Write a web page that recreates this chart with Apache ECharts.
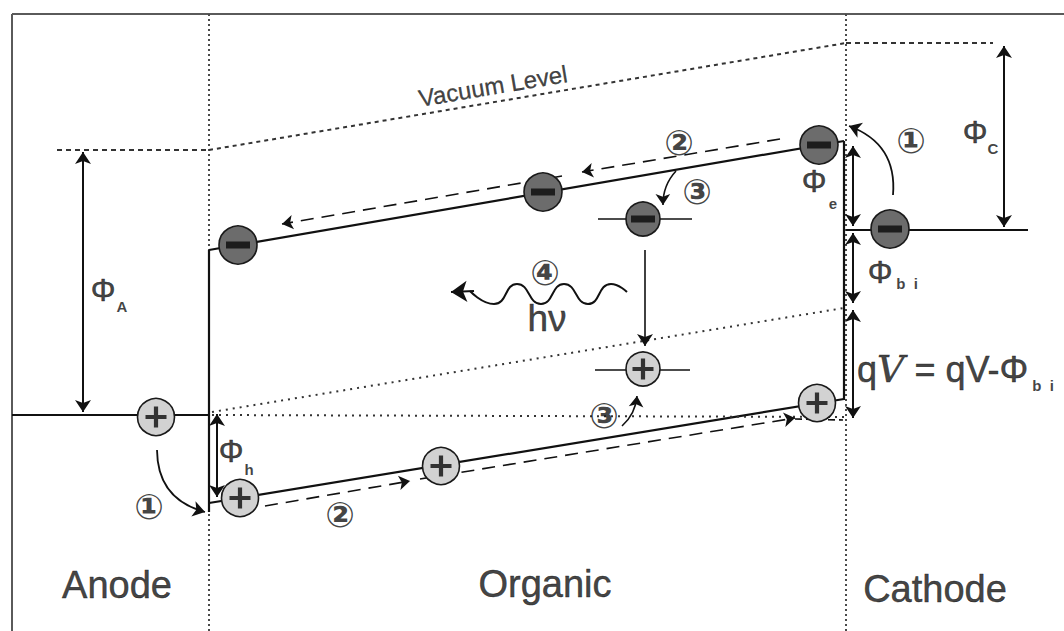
<!DOCTYPE html>
<html>
<head>
<meta charset="utf-8">
<script src="https://cdn.jsdelivr.net/npm/echarts@6/dist/echarts.min.js"></script>
<style>
  html, body { margin: 0; padding: 0; background: #fff; }
  #chart { width: 1064px; height: 631px; }
</style>
</head>
<body>
<div id="chart"></div>
<script>
// Energy-band diagram of an anode / organic / cathode device.
// Diagram space: x runs across the device, y is energy drawn downward (0 at the top).

// ---- outline and interfaces ----
const frameEdges   = [[[12, 14], [1064, 14]], [[12, 14], [12, 631]]];
const interfaces   = [[[209, 14], [209, 631]], [[846, 14], [846, 631]]];

// ---- metal levels ----
const metalFermi   = [[[12, 415], [209, 415]], [[846, 230], [1028, 230]]];
const metalVacuum  = [[[57, 150], [209, 150]], [[846, 43], [993, 43]]];
const organicVacuum = [[[209, 150], [846, 43]]];

// ---- organic bands (LUMO, HOMO and their edges) ----
const bandEdges = [
  [[209, 250], [844, 141]],
  [[209, 503], [844, 399]],
  [[209, 250], [209, 512]],
  [[844, 141], [844, 400]]
];
const fieldGuides = [[[212, 412], [844, 308]], [[212, 415], [844, 417]]];
const trapLevels  = [[[598, 219], [692, 219]], [[595, 370], [690, 370]]];

// ---- carrier transport paths ----
const electronPath = [[[780, 139], [582, 172]], [[562, 176], [282, 224]]];
const holePath     = [[[265, 506], [410, 481]], [[420, 479], [795, 418]]];
const holePathTail = [[[795, 419], [843, 420]]];

// ---- energy-difference arrows (double headed) ----
const doubleArrows = [
  [[83, 152], [83, 412]],     // Φ_A
  [[217, 414], [217, 497]],   // Φ_h
  [[1004, 46], [1004, 227]],  // Φ_C
  [[853, 146], [853, 226]],   // Φ_e
  [[853, 233], [853, 303]],   // Φ_bi
  [[853, 310], [853, 418]]    // qV
];
const recombinationArrow = [[[645, 250], [645, 346]]];
const injectionArrows = [[[893, 195], [849, 126]], [[157, 450], [205, 512]]];
const trappingArrows  = [[[676, 171], [663, 205]], [[622, 426], [637, 396]]];

// ---- emitted photon ----
const photonWave = [[470, 291], [494, 304], [517, 284], [541, 304], [564, 284], [588, 304], [611, 284], [627, 292]];
const photonHead = [[[474, 291], [451, 292]]];

// ---- carriers ----
const electrons        = [[238, 245], [543, 192], [819, 145], [890, 229]];
const trappedElectrons = [[643, 219]];
const holes            = [[156, 417], [240, 498], [441, 466], [817, 403]];
const trappedHoles     = [[643, 369]];

// ---- text ----
const regionLabels = [['Anode', 117, 585], ['Organic', 545, 584], ['Cathode', 935, 589]];
const stepLabels = [['①', 911, 141], ['①', 149, 507], ['②', 679, 143], ['②', 340, 515],
                    ['③', 697, 192], ['③', 604, 416], ['④', 545, 273]];
const phiLabels = [['Φ', 103, 290], ['Φ', 814, 181], ['Φ', 880, 272], ['Φ', 231, 451], ['Φ', 975, 132]];
const phiSubscripts = [['A', 122, 306], ['e', 833, 203], ['b  i', 907, 283], ['h', 249, 469], ['C', 993, 148]];
const vacuumLabel = [['Vacuum Level', 493, 86]];
const photonLabel = [['hν', 547, 318]];
const biasLabel = [['qV = qV-Φ', 857, 369]];
const biasSubscript = [['b  i', 1043, 385]];

const INK = '#111111';

function segs(list) {
  return list.map(c => ({ coords: c }));
}
function lineSeries(list, style, extra) {
  return Object.assign({
    type: 'lines',
    coordinateSystem: 'cartesian2d',
    polyline: false,
    silent: true,
    symbol: ['none', 'none'],
    lineStyle: Object.assign({ color: INK, width: 2, opacity: 1, curveness: 0 }, style),
    data: segs(list),
    z: 2
  }, extra || {});
}
function textSeries(list, label, z) {
  return {
    type: 'scatter',
    symbolSize: 0,
    silent: true,
    z: z || 10,
    data: list.map(t => ({ name: t[0], value: [t[1], t[2]] })),
    label: Object.assign({
      show: true, position: 'inside', formatter: '{b}', color: INK,
      textBorderColor: INK, textBorderWidth: 0.5,
      fontFamily: 'Liberation Sans, Arial, sans-serif'
    }, label)
  };
}
function carrierSeries(list, size, fill) {
  return {
    type: 'scatter',
    symbol: 'circle',
    symbolSize: size,
    silent: true,
    z: 5,
    data: list,
    itemStyle: { color: fill, borderColor: '#1a1a1a', borderWidth: 1.6, opacity: 1 }
  };
}

const chart = echarts.init(document.getElementById('chart'), null, { renderer: 'svg' });

chart.setOption({
  animation: false,
  backgroundColor: '#ffffff',
  grid: { left: 0, right: 0, top: 0, bottom: 0 },
  xAxis: { type: 'value', min: 0, max: 1064, show: false },
  yAxis: { type: 'value', min: 0, max: 631, inverse: true, show: false },
  series: [
    lineSeries(frameEdges, { color: '#5a5a5a', width: 2 }),
    lineSeries(interfaces, { color: '#4a4a4a', width: 2, type: [2, 3] }),
    lineSeries(metalFermi, { color: INK, width: 2 }),
    lineSeries(metalVacuum, { color: '#333', width: 2, type: [5, 4] }),
    lineSeries(organicVacuum, { color: '#333', width: 2, type: [4, 4] }),
    lineSeries(bandEdges, { color: INK, width: 2.2 }),
    lineSeries(fieldGuides, { color: '#333', width: 2, type: [2, 5] }),
    lineSeries(trapLevels, { color: INK, width: 1.6 }),
    lineSeries(electronPath, { color: INK, width: 1.6, type: [13, 8] },
      { symbol: ['none', 'arrow'], symbolSize: [0, 11] }),
    lineSeries(holePath, { color: INK, width: 1.6, type: [13, 8] },
      { symbol: ['none', 'arrow'], symbolSize: [0, 11] }),
    lineSeries(holePathTail, { color: INK, width: 1.6, type: [7, 4] }),
    lineSeries(doubleArrows, { color: INK, width: 2 },
      { symbol: ['arrow', 'arrow'], symbolSize: 12 }),
    lineSeries(recombinationArrow, { color: INK, width: 1.6 },
      { symbol: ['none', 'arrow'], symbolSize: [0, 12] }),
    lineSeries(injectionArrows, { color: INK, width: 1.8, curveness: -0.38 },
      { symbol: ['none', 'arrow'], symbolSize: [0, 12] }),
    lineSeries(trappingArrows, { color: INK, width: 1.6, curveness: -0.2 },
      { symbol: ['none', 'arrow'], symbolSize: [0, 11] }),
    lineSeries(photonHead, { color: INK, width: 2 },
      { symbol: ['none', 'arrow'], symbolSize: [0, 16] }),
    {
      type: 'line',
      data: photonWave,
      smooth: 0.55,
      showSymbol: false,
      silent: true,
      z: 3,
      lineStyle: { color: INK, width: 2 }
    },

    carrierSeries(electrons, 38, '#6c6c6c'),
    carrierSeries(trappedElectrons, 34, '#6c6c6c'),
    carrierSeries(holes, 37, '#d2d2d2'),
    carrierSeries(trappedHoles, 34, '#d2d2d2'),
    {
      type: 'scatter', symbol: 'rect', symbolSize: [24, 7], silent: true, z: 6,
      data: electrons.concat(trappedElectrons),
      itemStyle: { color: '#0a0a0a' }
    },
    {
      type: 'scatter', silent: true, z: 6,
      symbol: 'path://M8,0h4v8h8v4h-8v8h-4v-8h-8v-4h8z', symbolSize: 21,
      data: holes.concat(trappedHoles),
      itemStyle: { color: '#0a0a0a' }
    },

    textSeries(regionLabels, { fontSize: 38 }),
    textSeries(stepLabels, { fontSize: 35, fontFamily: 'DejaVu Sans', fontWeight: 'bold', textBorderWidth: 0 }),
    textSeries(phiLabels, { fontSize: 31 }),
    textSeries(phiSubscripts, { fontSize: 15, fontWeight: 'bold', textBorderWidth: 0 }),
    textSeries(vacuumLabel, { fontSize: 24, rotate: 9.6, textBorderWidth: 0.3 }),
    textSeries(photonLabel, { fontSize: 37 }),
    textSeries(biasLabel, {
      align: 'left',
      formatter: '{a|q}{v|V}{a| = qV-Φ}',
      rich: {
        a: { fontSize: 36, color: INK, textBorderColor: INK, textBorderWidth: 0.5,
             fontFamily: 'Liberation Sans, Arial, sans-serif' },
        v: { fontSize: 38, color: INK, textBorderColor: INK, textBorderWidth: 0.5,
             fontFamily: 'DejaVu Serif', fontStyle: 'italic' }
      }
    }),
    textSeries(biasSubscript, { fontSize: 15, fontWeight: 'bold', textBorderWidth: 0 })
  ]
});
</script>
</body>
</html>
